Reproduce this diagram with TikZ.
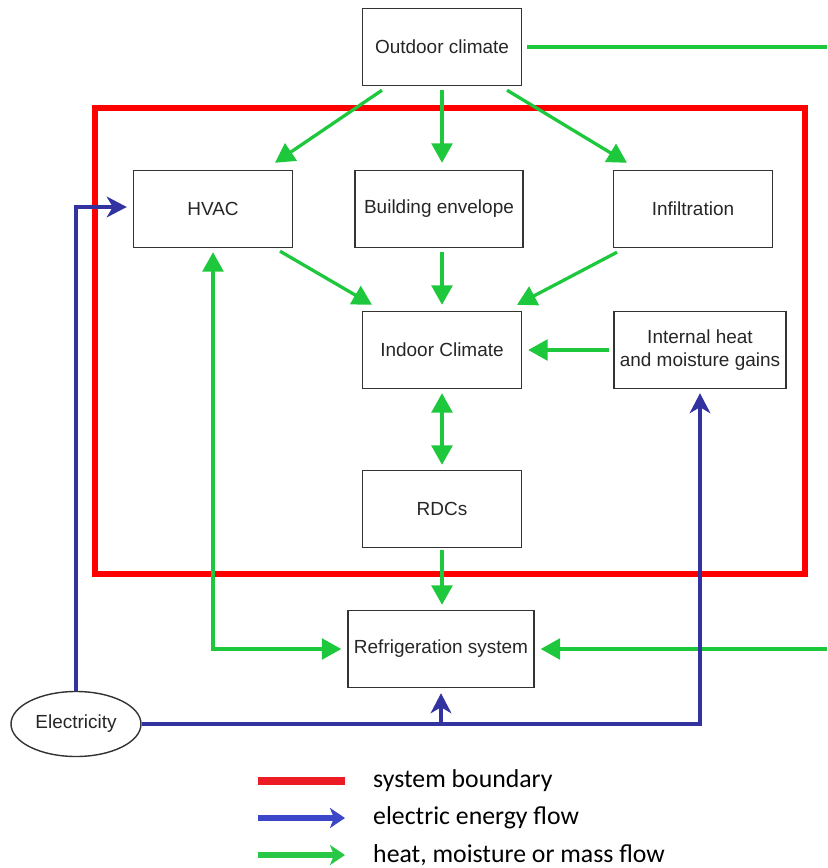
\documentclass[tikz,border=0pt]{standalone}
\usepackage{fontspec}
\setmainfont{Liberation Sans}
\newfontfamily\legendfont{Carlito}
\usetikzlibrary{arrows.meta}
\usetikzlibrary{calc}
\usetikzlibrary{shapes.geometric}
\definecolor{flowgreen}{RGB}{30,200,60}
\definecolor{flowblue}{RGB}{50,50,160}
\definecolor{bndred}{RGB}{255,0,0}
\definecolor{legred}{RGB}{237,28,36}
\definecolor{legblue}{RGB}{60,70,200}
\definecolor{leggreen}{RGB}{40,200,70}

\begin{document}
\begin{tikzpicture}[x=0.03cm,y=-0.03cm,
				box/.style={rectangle,draw=black!80,line width=1.2pt,minimum width=4.77cm,minimum height=2.31cm,align=center,inner sep=2pt,text=black!85,font=\fontsize{16.2pt}{19.5pt}\selectfont},
				elecnode/.style={ellipse,draw=black!80,line width=1.2pt,minimum width=3.9cm,minimum height=1.95cm,inner sep=0pt,text=black!85,font=\fontsize{16.2pt}{19.5pt}\selectfont},
				bound/.style={draw=bndred,line width=5pt},
				gflow/.style={draw=flowgreen,line width=2.8pt,-{Triangle[length=0.58cm,width=0.62cm]}},
				gboth/.style={gflow,{Triangle[length=0.58cm,width=0.62cm]}-{Triangle[length=0.58cm,width=0.62cm]}},
				gline/.style={draw=flowgreen,line width=2.8pt},
				eflow/.style={draw=flowblue,line width=3.2pt,-{Stealth[length=0.6cm,width=0.62cm,inset=0.18cm]}},
				legtext/.style={anchor=west,inner sep=0pt,font=\legendfont\fontsize{22pt}{24pt}\selectfont},
				legarrow/.style={line width=5pt,-{Stealth[length=0.45cm,width=0.6cm,inset=0.12cm]}}
				]
				\useasboundingbox (0,0) rectangle (827,868);
				\draw[bound] (95,108) rectangle (805,574);
				\node[box] (out) at (442,47) {Outdoor climate};
				\node[box] (hvac) at (213,209) {HVAC};
				\node[box,minimum width=5.04cm] (env) at (439,209) {Building envelope};
				\node[box] (inf) at (693,209) {Infiltration};
				\node[box] (ind) at (442,350) {Indoor Climate};
				\node[box,minimum width=5.16cm] (gain) at (700,350) {Internal heat\\and moisture gains};
				\node[box] (rdc) at (442,509) {RDCs};
				\node[box,minimum width=5.58cm] (ref) at (441,649) {Refrigeration system};
				\node[elecnode] (elec) at (76,724) {Electricity};
				\coordinate (outr) at (827,47);
				\coordinate (refr) at (827,649);
				\draw[gflow] ($(out.south)+(-60,4)$) -- ($(hvac.north)+(62,-7)$);
				\draw[gflow] ($(out.south)+(0,4)$) -- ($(env.north)+(3,-7)$);
				\draw[gflow] ($(out.south)+(65,4)$) -- ($(inf.north)+(-66,-7)$);
				\draw[gline] ($(out.east)+(5,0)$) -- (outr);
				\draw[gflow] ($(hvac.south)+(67,3)$) -- ($(ind.north)+(-70,-6)$);
				\draw[gflow] ($(env.south)+(3,4)$) -- ($(ind.north)+(0,-6)$);
				\draw[gflow] ($(inf.south)+(-76,4)$) -- ($(ind.north)+(75,-6)$);
				\draw[gflow] ($(gain.west)+(-4,0)$) -- ($(ind.east)+(6,0)$);
				\draw[gboth] ($(ind.south)+(0,4)$) -- ($(rdc.north)+(0,-5)$);
				\draw[gflow] ($(rdc.south)+(0,2)$) -- ($(ref.north)+(1,-5)$);
				\draw[gboth] ($(hvac.south)+(0,4)$) |- ($(ref.west)+(-6,0)$);
				\draw[gflow] (refr) -- ($(ref.east)+(6,0)$);
				\draw[eflow] (elec.north) |- ($(hvac.west)+(-6,-2)$);
				\draw[eflow] (elec.east) -| ($(gain.south)+(0,4)$);
				\draw[eflow] (elec.east -| ref.south) -- ($(ref.south)+(0,5)$);
				\node[legtext] (lbnd) at (373,781) {system boundary};
				\node[legtext] (lelec) at (373,818) {electric energy flow};
				\node[legtext] (lheat) at (373,855) {heat, moisture or mass flow};
				\draw[draw=legred,line width=6pt] ($(lbnd.west)+(-115,0)$) -- ($(lbnd.west)+(-28,0)$);
				\draw[legarrow,draw=legblue] ($(lelec.west)+(-115,0)$) -- ($(lelec.west)+(-28,0)$);
				\draw[legarrow,draw=leggreen] ($(lheat.west)+(-115,0)$) -- ($(lheat.west)+(-28,0)$);
\end{tikzpicture}
\end{document}
